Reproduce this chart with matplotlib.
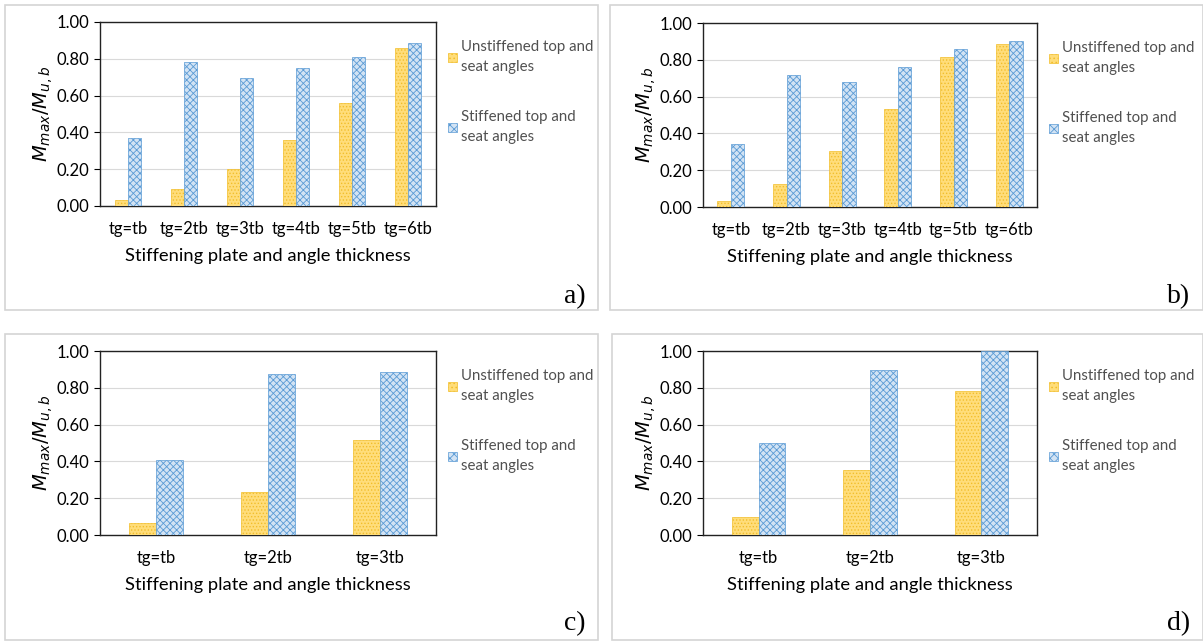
import numpy as np
import matplotlib
matplotlib.use('Agg')
import matplotlib.pyplot as plt
from matplotlib.patches import Rectangle, Patch

plt.rcParams['font.family'] = ['Lato', 'DejaVu Sans']
plt.rcParams['hatch.linewidth'] = 0.6

cats6 = ['tg=tb', 'tg=2tb', 'tg=3tb', 'tg=4tb', 'tg=5tb', 'tg=6tb']
cats3 = ['tg=tb', 'tg=2tb', 'tg=3tb']

unstiff_a = [0.03, 0.09, 0.20, 0.36, 0.56, 0.86]
stiff_a = [0.37, 0.78, 0.695, 0.75, 0.81, 0.885]
unstiff_b = [0.03, 0.125, 0.305, 0.53, 0.815, 0.885]
stiff_b = [0.34, 0.715, 0.68, 0.76, 0.86, 0.90]
unstiff_c = [0.065, 0.235, 0.515]
stiff_c = [0.41, 0.875, 0.885]
unstiff_d = [0.10, 0.355, 0.78]
stiff_d = [0.50, 0.895, 1.00]

yellow_face = '#FFDD7A'
yellow_hatch = '#F2BE2A'
blue_face = '#D2E3F4'
blue_hatch = '#5B9BD5'

W, H = 1203, 643
fig = plt.figure(figsize=(W / 100, H / 100), dpi=100)


def fbox(x0, y0, x1, y1):
    # pixel box -> figure fraction [left, bottom, width, height]
    return [x0 / W, 1 - y1 / H, (x1 - x0) / W, (y1 - y0) / H]


# panel frames
for x0, y0, x1, y1 in [(5, 5, 598, 310), (610, 5, 1203, 310),
                       (5, 334, 598, 640), (612, 334, 1203, 640)]:
    fig.patches.append(Rectangle((x0 / W, 1 - y1 / H), (x1 - x0) / W, (y1 - y0) / H,
                                 transform=fig.transFigure, fill=False,
                                 edgecolor='#d4d4d4', linewidth=1.2))

panels = [
    (fbox(100, 22, 436, 206), cats6, unstiff_a, stiff_a, 'a)', (575, 297)),
    (fbox(703, 23, 1037, 207), cats6, unstiff_b, stiff_b, 'b)', (1179, 297)),
    (fbox(100, 351, 436, 535), cats3, unstiff_c, stiff_c, 'c)', (575, 624)),
    (fbox(703, 351, 1037, 535), cats3, unstiff_d, stiff_d, 'd)', (1179, 624)),
]

w = 0.24
for rect, cats, uns, sti, tag, tpos in panels:
    ax = fig.add_axes(rect)
    x = np.arange(len(cats))
    ax.bar(x - w / 2, uns, w, facecolor=yellow_face, edgecolor=yellow_hatch,
           hatch='.....', linewidth=0.5, zorder=3)
    ax.bar(x + w / 2, sti, w, facecolor=blue_face, edgecolor=blue_hatch,
           hatch='xxxxx', linewidth=0.5, zorder=3)
    ax.set_xlim(-0.5, len(cats) - 0.5)
    ax.set_ylim(0, 1.0)
    ax.set_yticks(np.arange(0, 1.01, 0.2))
    ax.set_yticklabels([f'{v:.2f}' for v in np.arange(0, 1.01, 0.2)], fontsize=12)
    ax.set_xticks(x)
    ax.set_xticklabels(cats, fontsize=12)
    ax.tick_params(axis='x', length=0, pad=11)
    ax.tick_params(axis='y', length=4, width=0.8, pad=4)
    ax.grid(axis='y', color='#d9d9d9', linewidth=0.8, zorder=0)
    for s in ax.spines.values():
        s.set_color('#222222')
        s.set_linewidth(1.0)
    ax.set_xlabel('Stiffening plate and angle thickness', fontsize=13.2, labelpad=8)
    ax.set_ylabel(r'$M_{max}/M_{u,b}$', fontsize=14, labelpad=1)

    handles = [Patch(facecolor=yellow_face, edgecolor=yellow_hatch, hatch='....', linewidth=0.5),
               Patch(facecolor=blue_face, edgecolor=blue_hatch, hatch='xxxx', linewidth=0.5)]
    leg = ax.legend(handles, ['Unstiffened top and\nseat angles', 'Stiffened top and\nseat angles'],
                    loc='upper left', bbox_to_anchor=(0.995, 0.975), frameon=False,
                    fontsize=10.8, handlelength=0.6, handleheight=0.6, handletextpad=0.25,
                    labelspacing=2.4, labelcolor='#505050')
    for t in leg.get_texts():
        t.set_linespacing(1.55)

    fig.text(tpos[0] / W, 1 - tpos[1] / H, tag, ha='center', va='center',
             fontsize=20, family='Liberation Serif')

fig.savefig('out.png', dpi=100)
